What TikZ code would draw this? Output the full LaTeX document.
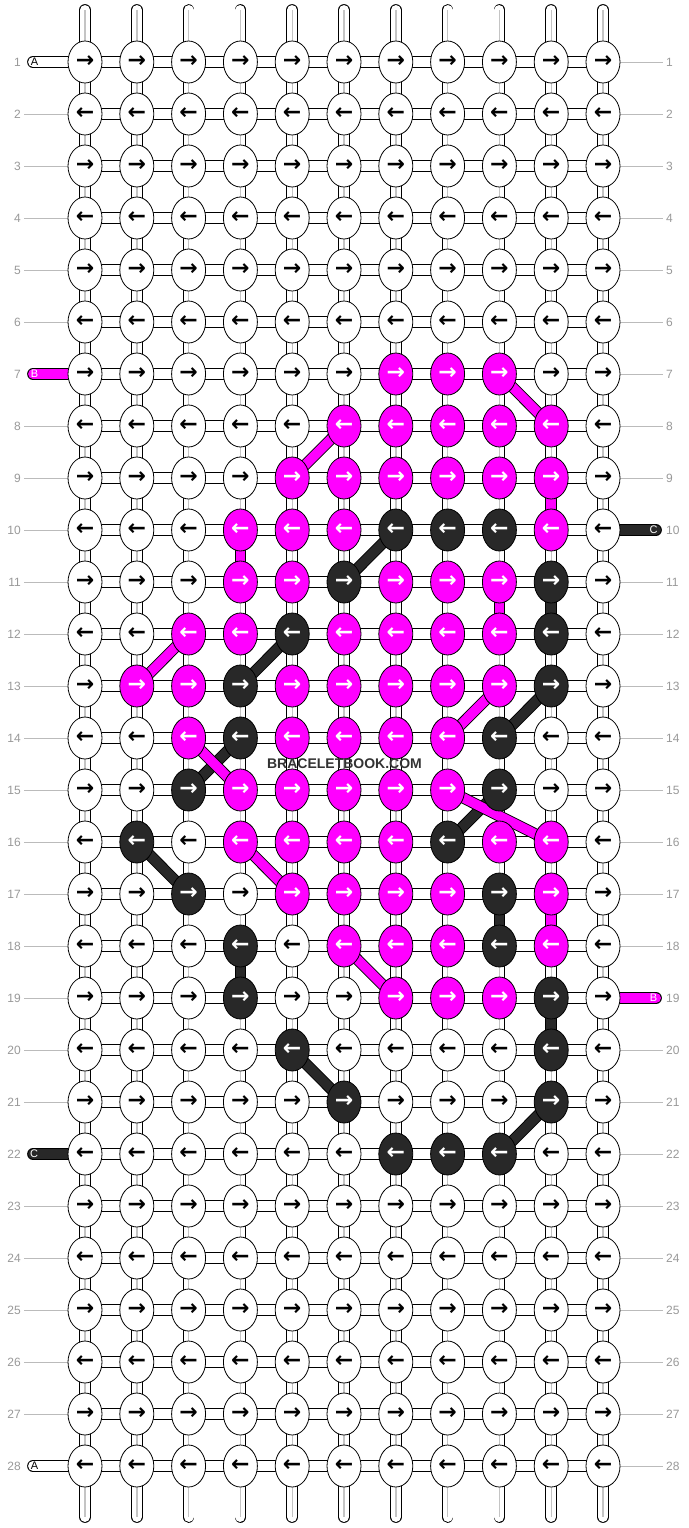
\documentclass[tikz,border=0pt]{standalone}
\usepackage{fontspec}
\setmainfont{Liberation Sans}
\newfontfamily\arrowfont{DejaVu Sans}
\usetikzlibrary{shapes.geometric}
\definecolor{pk}{HTML}{FF00FF}
\definecolor{dk}{HTML}{282828}
\definecolor{lblgray}{HTML}{999999}
\definecolor{lngray}{HTML}{BBBBBB}
\definecolor{strgray}{HTML}{C4C4C4}
\definecolor{wmgray}{HTML}{333333}
\pgfdeclarelayer{bg}
\pgfsetlayers{bg,main}
\newcommand\setknots[3]{\foreach \cc in {#3}{\expandafter\xdef\csname kc-#1-\cc\endcsname{#2}}}
\setknots{7}{pk}{7,8,9}
\setknots{8}{pk}{6,7,8,9,10}
\setknots{9}{pk}{5,6,7,8,9,10}
\setknots{10}{pk}{4,5,6,10}\setknots{10}{dk}{7,8,9}
\setknots{11}{pk}{4,5,7,8,9}\setknots{11}{dk}{6,10}
\setknots{12}{pk}{3,4,6,7,8,9}\setknots{12}{dk}{5,10}
\setknots{13}{pk}{2,3,5,6,7,8,9}\setknots{13}{dk}{4,10}
\setknots{14}{pk}{3,5,6,7,8}\setknots{14}{dk}{4,9}
\setknots{15}{pk}{4,5,6,7,8}\setknots{15}{dk}{3,9}
\setknots{16}{pk}{4,5,6,7,9,10}\setknots{16}{dk}{2,8}
\setknots{17}{pk}{5,6,7,8,10}\setknots{17}{dk}{3,9}
\setknots{18}{pk}{6,7,8,10}\setknots{18}{dk}{4,9}
\setknots{19}{pk}{7,8,9}\setknots{19}{dk}{4,10}
\setknots{20}{dk}{5,10}
\setknots{21}{dk}{6,10}
\setknots{22}{dk}{7,8,9}
\begin{document}
\begin{tikzpicture}[x=1pt,y=-1pt,
  knot/.style={ellipse, draw=black, line width=0.8pt, minimum width=34pt, minimum height=42pt, inner sep=0pt,
    font=\arrowfont\bfseries\fontsize{22}{22}\selectfont},
  lbl/.style={text=lblgray, font=\fontsize{12}{12}\selectfont, inner xsep=3pt, inner ysep=0pt},
  lblline/.style={draw=lngray, line width=0.8pt},
  strand/.style={double=#1, double distance=9.9pt, line width=0.9pt, draw=black},
  vstrand/.style={double=white, double distance=9.9pt, line width=0.9pt, draw=black, line cap=round},
  endstrand/.style={double=#1, double distance=9.9pt, line width=0.9pt, draw=black, line cap=round},
  midline/.style={draw=strgray, line width=1.4pt},
  conn/.style={double=#1, double distance=9.6pt, line width=0.9pt, draw=black},
  strlbl/.style={font=\fontsize{11}{11}\selectfont, inner sep=0pt, text=#1},
  wm/.style={font=\bfseries\fontsize{14}{14}\selectfont, text=wmgray, inner sep=0pt}]
\useasboundingbox (0,0) rectangle (688,1528);
% knots and row labels
\foreach \r in {1,...,28}{
  \pgfmathsetmacro\yy{62+(\r-1)*52}
  \ifodd\r\relax \def\arr{→}\else \def\arr{←}\fi
  \foreach \c in {1,...,11}{
    \pgfmathsetmacro\xx{85+(\c-1)*51.8}
    \ifcsname kc-\r-\c\endcsname
      \edef\kf{\csname kc-\r-\c\endcsname}\def\kt{white}%
    \else
      \def\kf{white}\def\kt{black}%
    \fi
    \node[knot, fill=\kf, text=\kt] (k-\r-\c) at (\xx,\yy) {\arr};
  }
  \node[lbl, anchor=east] (ll-\r) at (24,\yy) {\r};
  \node[lbl, anchor=west] (lr-\r) at (663,\yy) {\r};
}
% coordinates for strand ends
\foreach \c in {1,...,11}{
  \pgfmathsetmacro\xx{85+(\c-1)*51.8}
  \coordinate (tp-\c) at (\xx,10);
  \coordinate (bt-\c) at (\xx,1517);
}
\coordinate (sA1) at (33,62);
\coordinate (sB7) at (33,374);
\coordinate (sC22) at (33,1154);
\coordinate (sA28) at (33,1466);
\coordinate (sC10) at (656,530);
\coordinate (sB19) at (656,998);
\begin{pgfonlayer}{bg}
  \fill[white] (0,0) rectangle (688,1528);
  % vertical strands
  \foreach \c in {1,...,11}{
    \draw[vstrand] (tp-\c) -- (bt-\c);
    \draw[midline] (tp-\c) -- (bt-\c);
  }
  % horizontal strands
  \foreach \r in {1,...,28}{
    \draw[strand=white] (k-\r-1.center) -- (k-\r-11.center);
  }
  % label lines
  \foreach \r in {2,3,4,5,6,8,9,10,11,12,13,14,15,16,17,18,19,20,21,23,24,25,26,27}{
    \draw[lblline] (ll-\r) -- (k-\r-1);
  }
  \foreach \r in {1,2,3,4,5,6,7,8,9,11,12,13,14,15,16,17,18,20,21,22,23,24,25,26,27,28}{
    \draw[lblline] (k-\r-11) -- (lr-\r);
  }
  % free string ends
  \draw[endstrand=white] (sA1) -- (k-1-1.center);
  \draw[endstrand=pk] (sB7) -- (k-7-1.center);
  \draw[endstrand=dk] (sC22) -- (k-22-1.center);
  \draw[endstrand=white] (sA28) -- (k-28-1.center);
  \draw[endstrand=dk] (sC10) -- (k-10-11.center);
  \draw[endstrand=pk] (sB19) -- (k-19-11.center);
  % dark connectors
  \foreach \a/\b in {10-7/11-6, 11-10/12-10, 12-5/13-4, 13-10/14-9, 14-4/15-3, 15-9/16-8,
                     16-2/17-3, 17-9/18-9, 18-4/19-4, 19-10/20-10, 20-5/21-6, 21-10/22-9}{
    \draw[conn=dk] (k-\a.center) -- (k-\b.center);
  }
  % pink connectors
  \foreach \a/\b in {7-9/8-10, 8-6/9-5, 9-10/10-10, 10-4/11-4, 11-9/12-9, 12-3/13-2, 13-9/14-8,
                     14-3/15-4, 15-8/16-10, 16-4/17-5, 17-10/18-10, 18-6/19-7}{
    \draw[conn=pk] (k-\a.center) -- (k-\b.center);
  }
\end{pgfonlayer}
% string letters
\node[strlbl=black] (tA1) at (34.5,62) {A};
\node[strlbl=white] (tB7) at (34.5,374) {B};
\node[strlbl=white] (tC22) at (34,1154) {C};
\node[strlbl=black] (tA28) at (34.5,1466) {A};
\node[strlbl=white] (tC10) at (653.5,530) {C};
\node[strlbl=white] (tB19) at (653.5,998) {B};
% watermark
\node[wm] (wmark) at (344.5,764) {BRACELETBOOK.COM};
\end{tikzpicture}
\end{document}
